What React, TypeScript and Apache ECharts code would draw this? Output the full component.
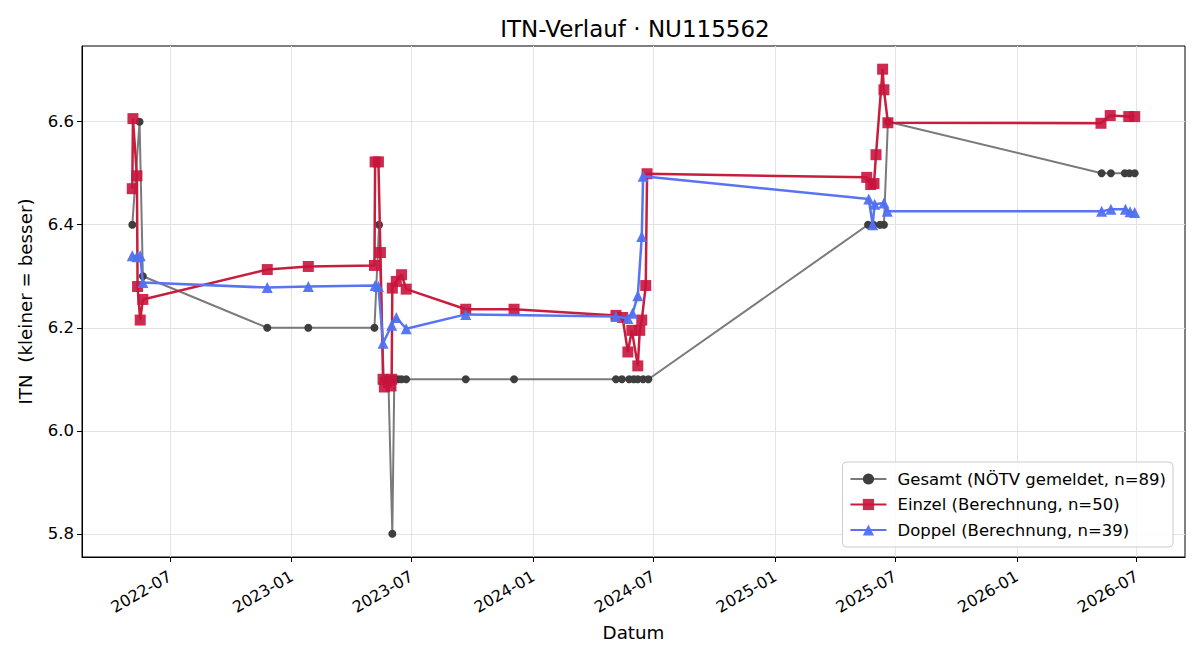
import React, { useEffect, useRef } from "react";
import * as echarts from "echarts";

const gesamtDates = [
  "2022-05-05", "2022-05-16", "2022-05-21", "2022-11-25", "2023-01-26", "2023-05-06", "2023-05-13",
  "2023-05-20", "2023-05-27", "2023-06-02", "2023-06-05", "2023-06-11", "2023-06-16", "2023-06-23",
  "2023-09-21", "2023-12-03", "2024-05-05", "2024-05-14", "2024-05-25", "2024-06-01", "2024-06-07",
  "2024-06-15", "2024-06-23", "2025-05-21", "2025-05-29", "2025-06-08", "2025-06-14", "2025-06-20",
  "2026-05-09", "2026-05-23", "2026-06-13", "2026-06-20", "2026-06-28",
];
const gesamtValues = [
  6.4, 6.6, 6.3, 6.2, 6.2, 6.2, 6.4,
  6.1, 6.1, 5.8, 6.1, 6.1, 6.1, 6.1,
  6.1, 6.1, 6.1, 6.1, 6.1, 6.1, 6.1,
  6.1, 6.1, 6.4, 6.4, 6.4, 6.4, 6.6,
  6.5, 6.5, 6.5, 6.5, 6.5,
];

const einzelDates = [
  "2022-05-05", "2022-05-06", "2022-05-12", "2022-05-13", "2022-05-17", "2022-05-21", "2022-11-25",
  "2023-01-26", "2023-05-06", "2023-05-07", "2023-05-12", "2023-05-15", "2023-05-19", "2023-05-21",
  "2023-05-31", "2023-06-01", "2023-06-02", "2023-06-08", "2023-06-16", "2023-06-23", "2023-09-21",
  "2023-12-03", "2024-05-05", "2024-05-15", "2024-05-23", "2024-05-29", "2024-06-07", "2024-06-10",
  "2024-06-13", "2024-06-19", "2024-06-21", "2025-05-19", "2025-05-25", "2025-05-30", "2025-06-02",
  "2025-06-12", "2025-06-14", "2025-06-20", "2026-05-08", "2026-05-22", "2026-06-19", "2026-06-28",
];
const einzelValues = [
  6.47, 6.606, 6.495, 6.28, 6.215, 6.255, 6.313,
  6.319, 6.321, 6.522, 6.522, 6.346, 6.1, 6.085,
  6.087, 6.1, 6.277, 6.29, 6.303, 6.275, 6.236,
  6.236, 6.224, 6.22, 6.153, 6.195, 6.126, 6.195,
  6.215, 6.282, 6.499, 6.492, 6.478, 6.48, 6.536,
  6.702, 6.662, 6.598, 6.597, 6.612, 6.61, 6.61,
];

const doppelDates = [
  "2022-05-05", "2022-05-12", "2022-05-17", "2022-05-21", "2022-11-25", "2023-01-26", "2023-05-07",
  "2023-05-12", "2023-05-19", "2023-06-01", "2023-06-08", "2023-06-23", "2023-09-21", "2024-05-05",
  "2024-05-23", "2024-05-30", "2024-06-07", "2024-06-13", "2024-06-15", "2025-05-22", "2025-05-28",
  "2025-05-31", "2025-06-14", "2025-06-19", "2026-05-09", "2026-05-23", "2026-06-14", "2026-06-21",
  "2026-06-28",
];
const doppelValues = [
  6.34, 6.338, 6.34, 6.288, 6.278, 6.28, 6.282,
  6.28, 6.17, 6.205, 6.22, 6.198, 6.226, 6.222,
  6.218, 6.228, 6.262, 6.377, 6.494, 6.45, 6.4,
  6.44, 6.442, 6.426, 6.426, 6.43, 6.43, 6.425,
  6.424,
];

const xTickLabels = [
  "2022-07", "2023-01", "2023-07", "2024-01", "2024-07", "2025-01", "2025-07", "2026-01", "2026-07",
];
const yTicks = [5.8, 6.0, 6.2, 6.4, 6.6];

const seriesNames = [
  "Gesamt (NÖTV gemeldet, n=89)",
  "Einzel (Berechnung, n=50)",
  "Doppel (Berechnung, n=39)",
];

const FONT = "DejaVu Sans";

function ts(s: string): number {
  const [y, m, d] = s.split("-").map(Number);
  return Date.UTC(y, m - 1, d || 1);
}

function pair(dates: string[], values: number[]) {
  return dates.map((d, i) => [ts(d), values[i]]);
}

export default function App() {
  const ref = useRef<HTMLDivElement>(null);

  useEffect(() => {
    if (!ref.current) return;
    const chart = echarts.init(ref.current, undefined, { renderer: "svg" });
    const xTickValues = xTickLabels.map((l) => ts(l + "-01"));

    chart.setOption({
      animation: false,
      backgroundColor: "#ffffff",
      textStyle: { fontFamily: FONT },
      title: {
        text: "ITN-Verlauf · NU115562",
        left: 630,
        textAlign: "center",
        top: 12,
        textStyle: { fontFamily: FONT, fontSize: 23, fontWeight: "normal", color: "#000" },
      },
      grid: {
        left: 82,
        right: 15,
        top: 46,
        bottom: 103,
        show: true,
        borderColor: "#000",
        borderWidth: 1,
        backgroundColor: "transparent",
      },
      legend: {
        orient: "vertical",
        right: 27,
        bottom: 113,
        itemWidth: 36,
        itemHeight: 14,
        itemGap: 5.5,
        padding: [7, 7, 7, 7],
        backgroundColor: "rgba(255,255,255,0.85)",
        borderColor: "#cccccc",
        borderWidth: 1,
        borderRadius: 4,
        textStyle: { fontFamily: FONT, fontSize: 16.5, lineHeight: 20, color: "#000", padding: [0, 0, 0, 6] },
        data: seriesNames,
      },
      xAxis: {
        type: "value",
        min: ts("2022-02-18"),
        max: ts("2026-09-12"),
        scale: true,
        name: "Datum",
        nameLocation: "middle",
        nameGap: 66,
        nameMoveOverlap: false,
        nameTextStyle: { fontFamily: FONT, fontSize: 18.3, color: "#000" },
        axisLine: { show: true, onZero: false, lineStyle: { color: "#000", width: 1 } },
        axisTick: {
          show: true,
          inside: false,
          length: 5,
          lineStyle: { color: "#000" },
          customValues: xTickValues,
        },
        axisLabel: {
          customValues: xTickValues,
          rotate: 30,
          margin: 18,
          fontFamily: FONT,
          fontSize: 16,
          color: "#000",
          formatter: (v: number) => {
            const d = new Date(v);
            const m = d.getUTCMonth() + 1;
            return d.getUTCFullYear() + "-" + (m < 10 ? "0" + m : "" + m);
          },
        },
        splitLine: { show: true, lineStyle: { color: "#e3e3e3", width: 1 } },
      },
      yAxis: {
        type: "value",
        min: 5.755,
        max: 6.747,
        name: "ITN  (kleiner = besser)",
        nameLocation: "middle",
        nameGap: 48,
        nameTextStyle: { fontFamily: FONT, fontSize: 18.3, color: "#000" },
        axisLine: { show: true, onZero: false, lineStyle: { color: "#000", width: 1 } },
        axisTick: {
          show: true,
          inside: false,
          length: 5,
          lineStyle: { color: "#000" },
          customValues: yTicks,
        },
        axisLabel: {
          customValues: yTicks,
          margin: 8,
          fontFamily: FONT,
          fontSize: 16.5,
          color: "#000",
          formatter: (v: number) => v.toFixed(1),
        },
        splitLine: { show: true, lineStyle: { color: "#e3e3e3", width: 1 } },
      },
      series: [
        {
          name: seriesNames[0],
          type: "line",
          data: pair(gesamtDates, gesamtValues),
          symbol: "circle",
          symbolSize: 8,
          showSymbol: true,
          lineStyle: { color: "#7a7a7a", width: 2 },
          itemStyle: { color: "#3e3e3e" },
          color: "#6a6a6a",
          z: 2,
        },
        {
          name: seriesNames[1],
          type: "line",
          data: pair(einzelDates, einzelValues),
          symbol: "rect",
          symbolSize: 11,
          showSymbol: true,
          lineStyle: { color: "#c81e3e", width: 2.5 },
          itemStyle: { color: "#c8143c", opacity: 0.9 },
          color: "#c81e3e",
          z: 3,
        },
        {
          name: seriesNames[2],
          type: "line",
          data: pair(doppelDates, doppelValues),
          symbol: "triangle",
          symbolSize: 11,
          showSymbol: true,
          lineStyle: { color: "#5874f2", width: 2.5 },
          itemStyle: { color: "#5070f0", opacity: 0.95 },
          color: "#5874f2",
          z: 4,
        },
      ],
    });

    return () => chart.dispose();
  }, []);

  return <div ref={ref} style={{ width: 1200, height: 660, margin: -8 }} />;
}
